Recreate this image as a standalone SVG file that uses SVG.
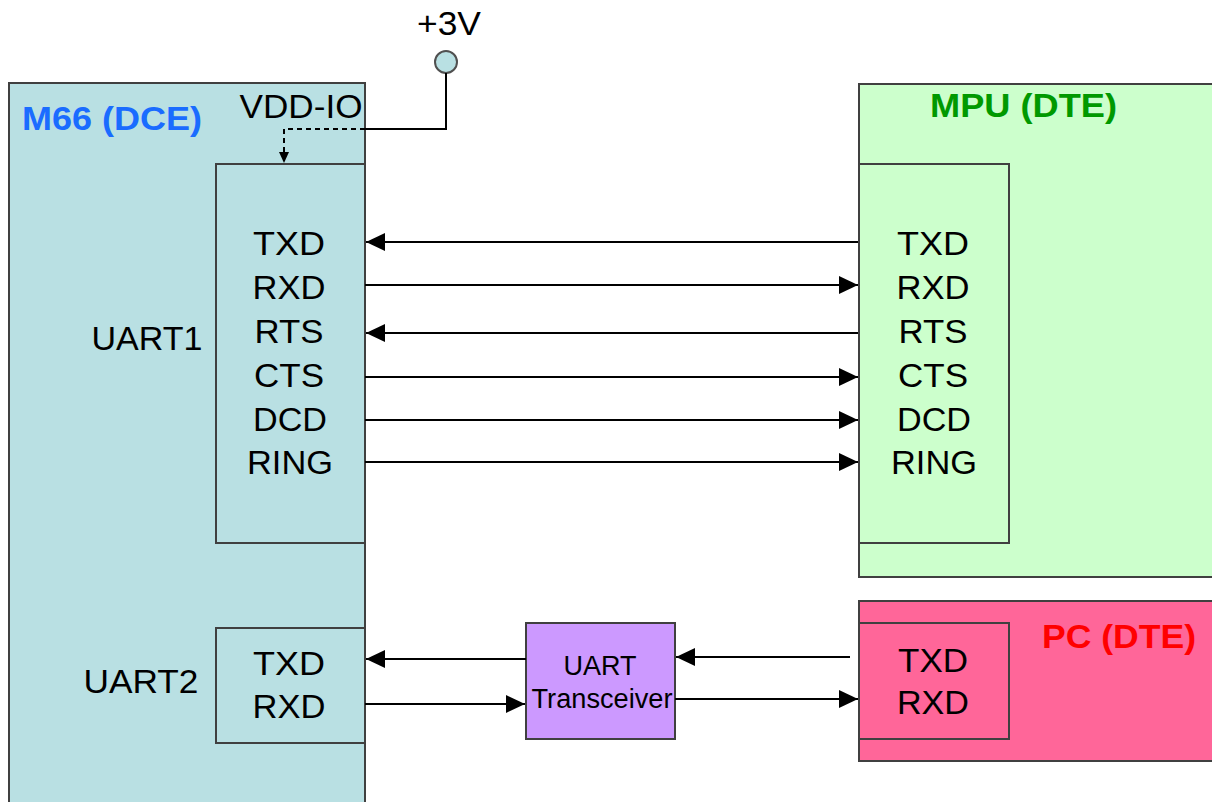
<svg xmlns="http://www.w3.org/2000/svg" width="1212" height="802" viewBox="0 0 1212 802">
<style>
.box{stroke:#404040;stroke-width:2}
.lbl{font-family:"Liberation Sans",Arial,sans-serif;font-size:34px;fill:#000;text-anchor:middle}
.ttl{font-family:"Liberation Sans",Arial,sans-serif;font-size:33px;font-weight:bold}
.wire{stroke:#000;stroke-width:2;fill:none}
</style>
<defs>
<marker id="ah" markerUnits="userSpaceOnUse" markerWidth="20" markerHeight="20" viewBox="0 0 20 20" refX="19" refY="10" orient="auto">
<path d="M0,1 L19,10 L0,19 Z" fill="#000"/>
</marker>
<marker id="ahs" markerUnits="userSpaceOnUse" markerWidth="12" markerHeight="12" viewBox="0 0 12 12" refX="11" refY="6" orient="auto">
<path d="M0,1 L11,6 L0,11 Z" fill="#000"/>
</marker>
</defs>
<rect width="1212" height="802" fill="#fff"/>

<g id="m66">
<rect class="box" x="9" y="83" width="356" height="730" fill="#b9e0e3"/>
<text class="ttl" x="22" y="130" fill="#1a6cff" textLength="180" lengthAdjust="spacingAndGlyphs">M66 (DCE)</text>
<text class="lbl" x="301" y="118" textLength="123" lengthAdjust="spacingAndGlyphs">VDD-IO</text>
</g>

<g id="uart1">
<rect class="box" x="216" y="164" width="149" height="379" fill="#b9e0e3"/>
<text class="lbl" x="147" y="350" textLength="111" lengthAdjust="spacingAndGlyphs">UART1</text>
<text class="lbl" x="289" y="255" textLength="72" lengthAdjust="spacingAndGlyphs">TXD</text>
<text class="lbl" x="289" y="299" textLength="73" lengthAdjust="spacingAndGlyphs">RXD</text>
<text class="lbl" x="289" y="343" textLength="69" lengthAdjust="spacingAndGlyphs">RTS</text>
<text class="lbl" x="289" y="387" textLength="70" lengthAdjust="spacingAndGlyphs">CTS</text>
<text class="lbl" x="290" y="431" textLength="74" lengthAdjust="spacingAndGlyphs">DCD</text>
<text class="lbl" x="290" y="474" textLength="86" lengthAdjust="spacingAndGlyphs">RING</text>
</g>

<g id="uart2">
<rect class="box" x="216" y="628" width="149" height="115" fill="#b9e0e3"/>
<text class="lbl" x="141" y="693" textLength="115" lengthAdjust="spacingAndGlyphs">UART2</text>
<text class="lbl" x="289" y="675" textLength="72" lengthAdjust="spacingAndGlyphs">TXD</text>
<text class="lbl" x="289" y="718" textLength="73" lengthAdjust="spacingAndGlyphs">RXD</text>
</g>

<g id="power">
<circle cx="446" cy="62" r="11" fill="#b9e0e3" stroke="#505050" stroke-width="2"/>
<text class="lbl" x="449" y="35" textLength="64" lengthAdjust="spacingAndGlyphs">+3V</text>
</g>

<g id="mpu">
<rect class="box" x="859" y="84" width="360" height="493" fill="#ccffcc"/>
<text class="ttl" x="930" y="117" fill="#009900" textLength="187" lengthAdjust="spacingAndGlyphs">MPU (DTE)</text>
<rect class="box" x="859" y="164" width="150" height="379" fill="#ccffcc"/>
<text class="lbl" x="933" y="255" textLength="72" lengthAdjust="spacingAndGlyphs">TXD</text>
<text class="lbl" x="933" y="299" textLength="73" lengthAdjust="spacingAndGlyphs">RXD</text>
<text class="lbl" x="933" y="343" textLength="69" lengthAdjust="spacingAndGlyphs">RTS</text>
<text class="lbl" x="933" y="387" textLength="70" lengthAdjust="spacingAndGlyphs">CTS</text>
<text class="lbl" x="934" y="431" textLength="74" lengthAdjust="spacingAndGlyphs">DCD</text>
<text class="lbl" x="934" y="474" textLength="86" lengthAdjust="spacingAndGlyphs">RING</text>
</g>

<g id="pc">
<rect class="box" x="859" y="601" width="360" height="160" fill="#ff6699"/>
<text class="ttl" x="1042" y="648" fill="#ff0000" textLength="154" lengthAdjust="spacingAndGlyphs">PC (DTE)</text>
<rect class="box" x="859" y="623" width="150" height="116" fill="#ff6699"/>
<text class="lbl" x="933" y="672" textLength="70" lengthAdjust="spacingAndGlyphs">TXD</text>
<text class="lbl" x="933" y="714" textLength="72" lengthAdjust="spacingAndGlyphs">RXD</text>
</g>

<g id="transceiver">
<rect class="box" x="526" y="623" width="149" height="116" fill="#cc99ff"/>
<text class="lbl" x="600" y="675" style="font-size:27px">UART</text>
<text class="lbl" x="602" y="708" style="font-size:27px" textLength="141" lengthAdjust="spacingAndGlyphs">Transceiver</text>
</g>

<g id="connectors">
<path class="wire" d="M446,73 V129 H365"/>
<path class="wire" d="M365,129 H284 V163" stroke-dasharray="5,4" marker-end="url(#ahs)"/>
<line class="wire" x1="858" y1="242" x2="366" y2="242" marker-end="url(#ah)"/>
<line class="wire" x1="365" y1="285" x2="858" y2="285" marker-end="url(#ah)"/>
<line class="wire" x1="858" y1="333" x2="366" y2="333" marker-end="url(#ah)"/>
<line class="wire" x1="365" y1="377" x2="858" y2="377" marker-end="url(#ah)"/>
<line class="wire" x1="365" y1="420" x2="858" y2="420" marker-end="url(#ah)"/>
<line class="wire" x1="365" y1="462" x2="858" y2="462" marker-end="url(#ah)"/>
<line class="wire" x1="526" y1="659" x2="366" y2="659" marker-end="url(#ah)"/>
<line class="wire" x1="365" y1="704" x2="525" y2="704" marker-end="url(#ah)"/>
<line class="wire" x1="850" y1="657" x2="676" y2="657" marker-end="url(#ah)"/>
<line class="wire" x1="675" y1="699" x2="858" y2="699" marker-end="url(#ah)"/>
</g>
</svg>
